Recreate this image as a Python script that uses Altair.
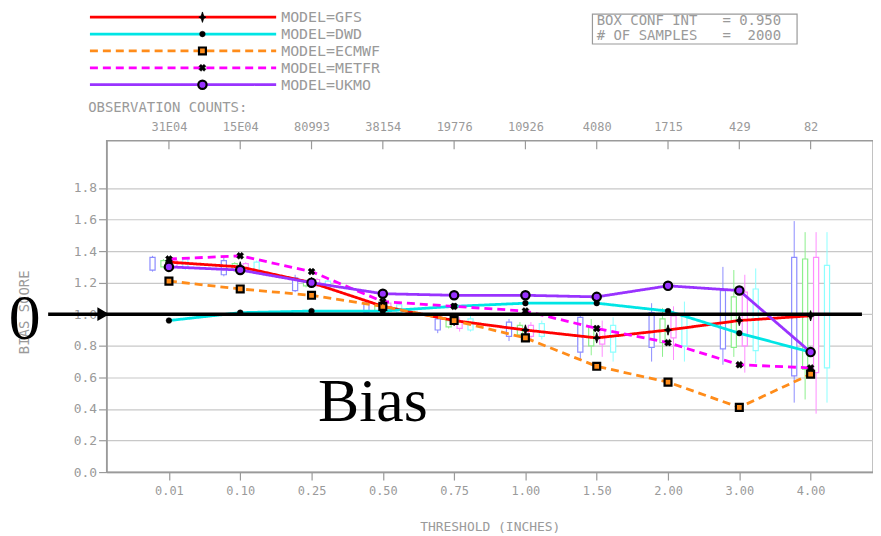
import json
import altair as alt
import pandas as pd

# ---------------- data ----------------
thresholds = ["0.01", "0.10", "0.25", "0.50", "0.75", "1.00", "1.50", "2.00", "3.00", "4.00"]
obs_counts = ["31E04", "15E04", "80993", "38154", "19776", "10926", "4080", "1715", "429", "82"]
models = ["GFS", "DWD", "ECMWF", "METFR", "UKMO"]

gfs = [1.33, 1.30, 1.20, 1.05, 0.96, 0.90, 0.85, 0.90, 0.96, 0.99]
dwd = [0.96, 1.01, 1.02, 1.02, 1.05, 1.07, 1.07, 1.02, 0.88, 0.76]
ecmwf = [1.21, 1.16, 1.12, 1.05, 0.96, 0.85, 0.67, 0.57, 0.41, 0.62]
metfr = [1.35, 1.37, 1.27, 1.08, 1.05, 1.02, 0.91, 0.82, 0.68, 0.66]
ukmo = [1.30, 1.28, 1.20, 1.13, 1.12, 1.12, 1.11, 1.18, 1.15, 0.76]

# confidence boxes (four per threshold): whisker low, box low, box high, whisker high
b1_lo = [1.27, 1.24, 1.14, 0.99, 0.88, 0.83, 0.71, 0.70, 0.68, 0.44]
b1_q1 = [1.28, 1.25, 1.15, 1.01, 0.90, 0.86, 0.76, 0.79, 0.78, 0.61]
b1_q3 = [1.36, 1.34, 1.23, 1.07, 0.97, 0.95, 0.98, 1.01, 1.15, 1.36]
b1_hi = [1.37, 1.36, 1.25, 1.09, 0.99, 0.97, 1.01, 1.07, 1.30, 1.59]

b2_lo = [1.29, 1.27, 1.17, 1.01, 0.91, 0.86, 0.74, 0.73, 0.73, 0.46]
b2_q1 = [1.30, 1.28, 1.18, 1.02, 0.92, 0.87, 0.80, 0.82, 0.79, 0.65]
b2_q3 = [1.34, 1.32, 1.21, 1.06, 0.96, 0.93, 0.92, 0.97, 1.11, 1.35]
b2_hi = [1.35, 1.33, 1.22, 1.07, 0.97, 0.95, 0.97, 1.04, 1.28, 1.52]

b3_lo = [1.29, 1.27, 1.17, 1.00, 0.89, 0.84, 0.73, 0.71, 0.63, 0.37]
b3_q1 = [1.30, 1.28, 1.18, 1.02, 0.91, 0.86, 0.81, 0.85, 0.80, 0.63]
b3_q3 = [1.34, 1.32, 1.22, 1.07, 0.96, 0.93, 0.90, 0.99, 1.14, 1.36]
b3_hi = [1.35, 1.33, 1.23, 1.08, 0.98, 0.95, 0.96, 1.05, 1.25, 1.52]

b4_lo = [1.28, 1.26, 1.16, 1.00, 0.89, 0.84, 0.70, 0.70, 0.69, 0.44]
b4_q1 = [1.29, 1.27, 1.17, 1.01, 0.90, 0.86, 0.76, 0.80, 0.77, 0.66]
b4_q3 = [1.35, 1.33, 1.21, 1.06, 0.97, 0.94, 0.93, 1.00, 1.16, 1.31]
b4_hi = [1.36, 1.34, 1.23, 1.08, 0.99, 0.96, 0.98, 1.08, 1.29, 1.52]

info_lines = ["BOX CONF INT   = 0.950", "# OF SAMPLES   =  2000"]

# ---------------- styles ----------------
line_colors = ["#ff0000", "#00e5e5", "#ff8c1a", "#ff00ff", "#9933ff"]
line_dashes = [[1, 0], [1, 0], [8, 5], [8, 5], [1, 0]]
box_names = ["b1", "b2", "b3", "b4"]
box_colors = ["#8c8cff", "#8cf08c", "#ff8cff", "#8cffff"]
box_offsets = [-0.23, -0.077, 0.077, 0.23]
box_half = 0.036
FONT = "DejaVu Sans Mono"
GRAY = "#9a9a9a"

N = len(thresholds)
idx = list(range(N))

rows = []
for m, vals in zip(models, [gfs, dwd, ecmwf, metfr, ukmo]):
    for i, v in enumerate(vals):
        rows.append({"model": m, "i": i, "bias": v})
lines_df = pd.DataFrame(rows)

brows = []
for name, off, (lo, q1, q3, hi) in zip(
    box_names, box_offsets,
    [(b1_lo, b1_q1, b1_q3, b1_hi), (b2_lo, b2_q1, b2_q3, b2_hi),
     (b3_lo, b3_q1, b3_q3, b3_hi), (b4_lo, b4_q1, b4_q3, b4_hi)]):
    for i in idx:
        brows.append({"s": name, "xc": i + off, "xa": i + off - box_half, "xb": i + off + box_half,
                      "lo": lo[i], "q1": q1[i], "q3": q3[i], "hi": hi[i]})
box_df = pd.DataFrame(brows)

# legend layout (in data units, above the plot)
leg_df = pd.DataFrame({
    "model": models,
    "label": ["MODEL=" + m for m in models],
    "y": [2.882 - 0.107 * k for k in range(len(models))],
})
leg_df["x1"] = -1.108
leg_df["x2"] = 1.504
leg_df["xm"] = 0.47
leg_df["xt"] = 1.574

XS = alt.Scale(domain=[-0.875, 9.875], nice=False, zero=False)
YS = alt.Scale(domain=[0, 2.1], nice=False, zero=False)
DASH = alt.Scale(domain=models, range=line_dashes)
COL = alt.Scale(domain=models, range=line_colors)
BCOL = alt.Scale(domain=box_names, range=box_colors)


def X(field, **kw):
    return alt.X(field, type="quantitative", scale=XS, axis=None, **kw)


def Y(field, **kw):
    return alt.Y(field, type="quantitative", scale=YS, axis=None, **kw)


thr_expr = json.dumps(thresholds) + "[datum.value]"
cnt_expr = json.dumps(obs_counts) + "[datum.value]"

# axes carrier layers
bottom_axis = alt.Chart(pd.DataFrame({"i": idx, "v": [0.0] * N})).mark_point(opacity=0).encode(
    x=alt.X("i:Q", scale=XS, axis=alt.Axis(
        values=idx, labelExpr=thr_expr, title="THRESHOLD (INCHES)", tickSize=8, labelPadding=6,
        grid=False, titleY=55, titleBaseline="middle", titleFontSize=13)),
    y=alt.Y("v:Q", scale=YS, axis=alt.Axis(
        values=[0.0, 0.2, 0.4, 0.6, 0.8, 1.0, 1.2, 1.4, 1.6, 1.8], format=".1f", tickSize=8,
        labelPadding=2, labelFontSize=13, grid=True, gridColor="#c8c8c8", gridWidth=1.2,
        title="BIAS SCORE", titleAngle=270, titleX=-82, titleY=172, titleAlign="center",
        titleBaseline="middle", titleFontSize=14)),
)

top_axis = alt.Chart(pd.DataFrame({"i": idx, "v": [2.1] * N})).mark_point(opacity=0).encode(
    x=alt.X("i:Q", scale=XS, axis=alt.Axis(
        orient="top", values=idx, labelExpr=cnt_expr, ticks=False, domain=False, grid=False,
        labelPadding=7, title="OBSERVATION COUNTS:", titleAnchor="start", titleAlign="left",
        titleX=-19, titleY=-33, titleBaseline="middle", titleFontSize=14)),
    y=Y("v"),
)

top_ticks = alt.Chart(pd.DataFrame({"i": idx, "a": [2.1] * N, "b": [2.045] * N})).mark_rule(
    color=GRAY, strokeWidth=1.2).encode(x=X("i"), y=Y("a"), y2="b")

# boxes
whiskers = alt.Chart(box_df).mark_rule(strokeWidth=1).encode(
    x=X("xc"), y=Y("lo"), y2="hi", stroke=alt.Stroke("s:N", scale=BCOL, legend=None))
boxes = alt.Chart(box_df).mark_rect(fill="white", strokeWidth=1.2).encode(
    x=X("xa"), x2="xb", y=Y("q1"), y2="q3", stroke=alt.Stroke("s:N", scale=BCOL, legend=None))

# model lines
lines = alt.Chart(lines_df).mark_line(strokeWidth=2.8).encode(
    x=X("i"), y=Y("bias"),
    color=alt.Color("model:N", scale=COL, legend=None),
    strokeDash=alt.StrokeDash("model:N", scale=DASH, legend=None),
    detail="model:N",
)

# reference annotation: 1.0 line with arrow
ref_df = pd.DataFrame({"x1": [-1.694], "x2": [9.72], "y": [1.0], "xa": [-0.92]})
ref_line = alt.Chart(ref_df).mark_rule(color="black", strokeWidth=3.6).encode(
    x=X("x1"), x2="x2", y=Y("y"))
ref_arrow = alt.Chart(ref_df).mark_point(shape="triangle-right", filled=True, color="black",
                                         size=190, opacity=1).encode(x=X("xa"), y=Y("y"))

star = "M0,-1.3L0.3,-0.3L0.9,0L0.3,0.3L0,1.3L-0.3,0.3L-0.9,0L-0.3,-0.3Z"
marker_style = {
    "GFS": dict(shape=star, filled=True, fill="black", stroke="black", strokeWidth=0.8, size=65),
    "DWD": dict(shape="circle", filled=True, fill="black", stroke="black", strokeWidth=0.5, size=32),
    "ECMWF": dict(shape="square", filled=True, fill="#ff8c1a", stroke="black", strokeWidth=2.2, size=48),
    "METFR": dict(shape="cross", angle=45, filled=True, fill="black", stroke="black", strokeWidth=0.5, size=50),
    "UKMO": dict(shape="circle", filled=True, fill="#9933ff", stroke="black", strokeWidth=2.2, size=70),
}


def markers(df, xf, yf):
    out = []
    for m in models:
        out.append(alt.Chart(df).transform_filter(alt.datum.model == m)
                   .mark_point(opacity=1, **marker_style[m]).encode(x=X(xf), y=Y(yf)))
    return out


# legend
leg_lines = alt.Chart(leg_df).mark_rule(strokeWidth=2.8).encode(
    x=X("x1"), x2="x2", y=Y("y"),
    color=alt.Color("model:N", scale=COL, legend=None),
    strokeDash=alt.StrokeDash("model:N", scale=DASH, legend=None))
leg_text = alt.Chart(leg_df).mark_text(align="left", baseline="middle", font=FONT, fontSize=15,
                                       color=GRAY).encode(x=X("xt"), y=Y("y"), text="label:N")

# info box (non-breaking spaces keep the column alignment)
info_box_df = pd.DataFrame({"x1": [5.94], "x2": [8.81], "y1": [2.712], "y2": [2.901]})
info_box = alt.Chart(info_box_df).mark_rect(fill="white", stroke=GRAY, strokeWidth=1.2).encode(
    x=X("x1"), x2="x2", y=Y("y1"), y2="y2")
info_txt_df = pd.DataFrame({"t": [s.replace(" ", "\u00a0") for s in info_lines],
                            "x": [6.0, 6.0], "y": [2.857, 2.762]})
info_txt = alt.Chart(info_txt_df).mark_text(align="left", baseline="middle", font=FONT, fontSize=14,
                                            color=GRAY).encode(x=X("x"), y=Y("y"), text="t:N")

# big serif annotations
big_df = pd.DataFrame({"t": ["1.0"], "x": [-1.80], "y": [0.843]})
big_txt = alt.Chart(big_df).mark_text(align="right", baseline="alphabetic", font="Liberation Serif",
                                      fontSize=64, color="black").encode(x=X("x"), y=Y("y"), text="t:N")
bias_df = pd.DataFrame({"t": ["Bias"], "x": [2.86], "y": [0.325]})
bias_txt = alt.Chart(bias_df).mark_text(align="center", baseline="alphabetic", font="Liberation Serif",
                                        fontSize=62, color="black").encode(x=X("x"), y=Y("y"), text="t:N")

chart = alt.layer(
    bottom_axis, top_axis, top_ticks, whiskers, boxes, lines, ref_line, ref_arrow,
    *markers(lines_df, "i", "bias"),
    leg_lines, *markers(leg_df, "xm", "y"), leg_text,
    info_box, info_txt, big_txt, bias_txt,
).resolve_axis(x="independent", y="independent").resolve_scale(
    color="independent", stroke="independent", strokeDash="independent"
).properties(
    width=770, height=333,
    autosize=alt.AutoSizeParams(type="none"),
    padding={"left": 99, "top": 132, "right": 0, "bottom": 62},
).configure_view(stroke="#9a9a9a", strokeWidth=1.4).configure_axis(
    labelFont=FONT, labelColor=GRAY, labelFontSize=12, titleFont=FONT, titleColor=GRAY,
    titleFontWeight="normal", domainColor="#9a9a9a", domainWidth=1.4, tickColor="#9a9a9a",
    tickWidth=1.2,
)

chart.save("out.html", embed_options={"renderer": "svg", "actions": False})
